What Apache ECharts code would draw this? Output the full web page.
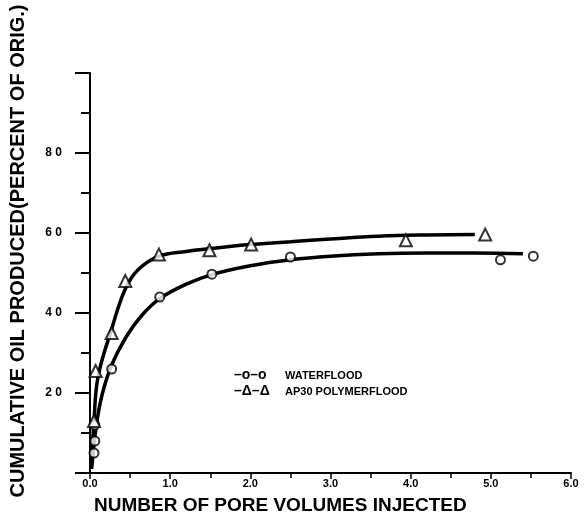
<!DOCTYPE html>
<html>
<head>
<meta charset="utf-8">
<script src="https://cdn.jsdelivr.net/npm/echarts@6/dist/echarts.min.js"></script>
<style>html,body{margin:0;padding:0;background:#fff;}#c{width:586px;height:519px;}</style>
</head>
<body>
<div id="c"></div>
<script>
// Observed data points (pore volumes, cumulative oil %)
const waterX = [0.05, 0.06, 0.06, 0.27, 0.87, 1.52, 2.5, 5.12, 5.53];
const waterY = [5, 8, 12, 26, 44, 49.7, 54, 53.3, 54.2];
const polyX = [0.05, 0.07, 0.27, 0.44, 0.86, 1.49, 2.01, 3.94, 4.93];
const polyY = [13, 25.5, 35, 48, 54.6, 55.7, 57.1, 58.2, 59.6];
// Hand-drawn fitted curves
const waterCurveX = [0.02, 0.08, 0.15, 0.27, 0.45, 0.65, 0.87, 1.2, 1.52, 2.0, 2.5, 3.0, 3.6, 4.2, 4.8, 5.4];
const waterCurveY = [1, 12, 19.5, 27, 34, 39.5, 43.6, 47.2, 49.6, 51.8, 53.3, 54.2, 54.8, 55, 55, 54.8];
const polyCurveX = [0.02, 0.05, 0.1, 0.27, 0.44, 0.6, 0.86, 1.2, 1.5, 2.0, 2.5, 3.0, 3.6, 4.2, 4.8];
const polyCurveY = [2, 13, 24, 36, 46, 50.8, 54.2, 55.4, 56.1, 57.1, 57.8, 58.5, 59.2, 59.5, 59.6];
const yLabelValues = [20, 40, 60, 80];
const xLabelValues = [0, 1, 2, 3, 4, 5, 6];
const legendNames = ['WATERFLOOD', 'AP30 POLYMERFLOOD'];
const legendMarks = ['\u2013o\u2013o', '\u2013\u0394\u2013\u0394'];

const zip = (a, b) => a.map((v, i) => [v, b[i]]);
const chart = echarts.init(document.getElementById('c'));
const FONT = '"Liberation Sans", Arial, sans-serif';
chart.setOption({
  animation: false,
  backgroundColor: '#fff',
  grid: { left: 88, right: 15, top: 73, bottom: 46, containLabel: false },
  xAxis: {
    type: 'value', min: 0, max: 6, interval: 1,
    name: 'NUMBER OF PORE VOLUMES INJECTED', nameLocation: 'start',
    nameGap: 0,
    nameTextStyle: { fontFamily: FONT, fontSize: 19, fontWeight: 'bold', color: '#000', align: 'left', verticalAlign: 'top', padding: [23, 0, 0, 4] },
    axisLine: { lineStyle: { color: '#000', width: 2 } },
    axisTick: { length: 6, lineStyle: { color: '#000', width: 1.5 } },
    minorTick: { show: true, splitNumber: 2, length: 5, lineStyle: { color: '#000', width: 1.5 } },
    splitLine: { show: false },
    axisLabel: { margin: 5, fontFamily: FONT, fontSize: 11, fontWeight: 'bold', color: '#000',
      formatter: v => xLabelValues.includes(v) ? v.toFixed(1) : '' }
  },
  yAxis: {
    type: 'value', min: 0, max: 100, interval: 20,
    name: 'CUMULATIVE OIL PRODUCED(PERCENT OF ORIG.)', nameLocation: 'middle',
    nameGap: 62, nameRotate: 90,
    nameTextStyle: { fontFamily: FONT, fontSize: 20, fontWeight: 'bold', color: '#000', padding: [0, 0, 0, 44] },
    axisLine: { lineStyle: { color: '#000', width: 2 } },
    axisTick: { length: 15, lineStyle: { color: '#000', width: 2 } },
    minorTick: { show: true, splitNumber: 2, length: 9, lineStyle: { color: '#000', width: 2 } },
    splitLine: { show: false },
    axisLabel: { margin: 28, fontFamily: FONT, fontSize: 12, fontWeight: 'bold', color: '#000',
      formatter: v => yLabelValues.includes(v) ? String(v).split('').join(' ') : '' }
  },
  series: [
    { type: 'line', data: zip(waterCurveX, waterCurveY), smooth: 0.4, showSymbol: false, symbol: 'none',
      lineStyle: { color: '#000', width: 3.5 }, z: 2, silent: true },
    { type: 'line', data: zip(polyCurveX, polyCurveY), smooth: 0.4, showSymbol: false, symbol: 'none',
      lineStyle: { color: '#000', width: 3.5 }, z: 2, silent: true },
    { name: legendNames[0], type: 'scatter', data: zip(waterX, waterY), symbol: 'circle', symbolSize: 9,
      itemStyle: { color: '#fff', borderColor: '#000', borderWidth: 2 }, z: 3 },
    { name: legendNames[1], type: 'scatter', data: zip(polyX, polyY), symbol: 'triangle', symbolSize: 12,
      itemStyle: { color: '#fff', borderColor: '#000', borderWidth: 2 }, z: 3 }
  ],
  graphic: [0, 1].map(i => ({
    type: 'text', left: 234, top: 368 + i * 16,
    style: {
      text: '{a|' + legendMarks[i] + '}{b|' + legendNames[i] + '}',
      rich: {
        a: { width: 51, font: 'bold 14px ' + FONT, fill: '#000' },
        b: { font: 'bold 11px ' + FONT, fill: '#000', padding: [2, 0, 0, 0] }
      }
    }
  }))
});
</script>
</body>
</html>
